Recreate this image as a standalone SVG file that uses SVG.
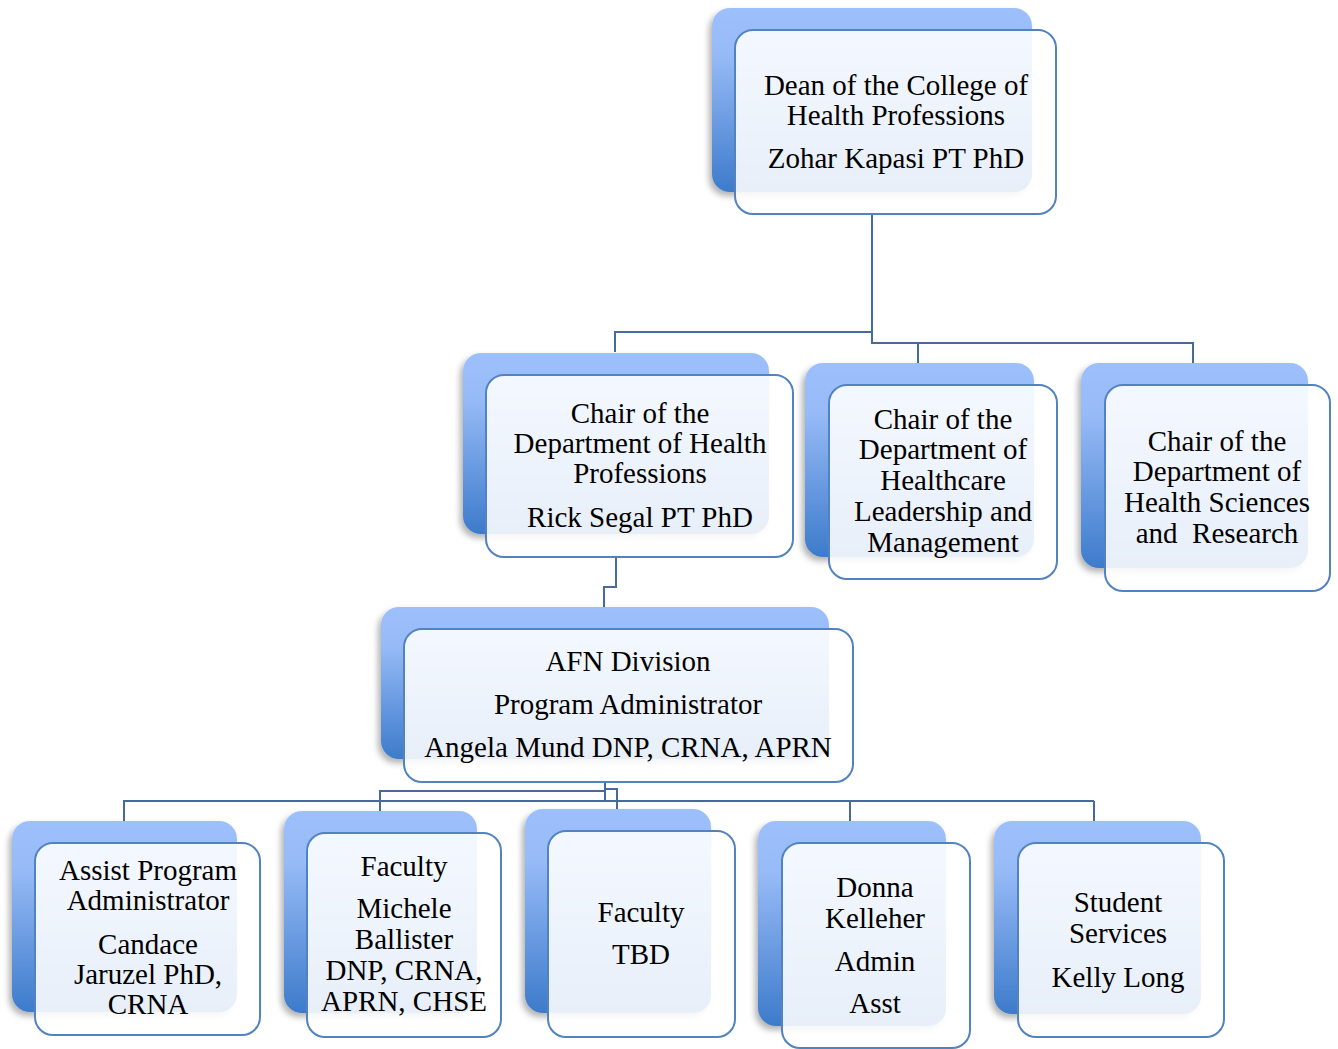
<svg xmlns="http://www.w3.org/2000/svg" width="1338" height="1049" viewBox="0 0 1338 1049">
<defs>
<linearGradient id="bg" x1="0" y1="0" x2="0" y2="1">
<stop offset="0" stop-color="#9dc0fd"/>
<stop offset="0.25" stop-color="#97bbf7"/>
<stop offset="1" stop-color="#3d7bcb"/>
</linearGradient>
<filter id="sh" x="-10%" y="-10%" width="125%" height="125%">
<feDropShadow dx="-3" dy="4" stdDeviation="3" flood-color="#000" flood-opacity="0.3"/>
</filter>
</defs>
<style>
.back{fill:url(#bg);filter:url(#sh);}
.front{fill:#fff;fill-opacity:0.88;stroke:#5283c0;stroke-width:2;}
.conn{fill:none;stroke:#46699f;stroke-width:2;}
text{font-family:"Liberation Serif","DejaVu Serif",serif;font-size:29px;fill:#000;text-anchor:middle;}
</style>
<rect width="1338" height="1049" fill="#fff"/>
<g id="connectors">
<polyline class="conn" points="872,214 872,332 615,332 615,352"/>
<polyline class="conn" points="872,332 872,343 1193,343 1193,363"/>
<line class="conn" x1="918" y1="343" x2="918" y2="363"/>
<polyline class="conn" points="616,557 616,587 604,587 604,607"/>
<polyline class="conn" points="605,782 605,801 124,801 124,821"/>
<line class="conn" x1="605" y1="801" x2="1094" y2="801"/>
<line class="conn" x1="850" y1="801" x2="850" y2="821"/>
<line class="conn" x1="1094" y1="801" x2="1094" y2="821"/>
<polyline class="conn" points="605,791 380,791 380,811"/>
<polyline class="conn" points="605,789 617,789 617,809"/>
</g>
<g id="dean">
<rect class="back" x="712" y="8" width="320" height="184" rx="18"/>
<rect class="front" x="735" y="30" width="321" height="184" rx="18"/>
<text x="896" y="95">Dean of the College of</text>
<text x="896" y="125">Health Professions</text>
<text x="896" y="168">Zohar Kapasi PT PhD</text>
</g>
<g id="chair-hp">
<rect class="back" x="463" y="353" width="306" height="181" rx="18"/>
<rect class="front" x="486" y="375" width="307" height="182" rx="18"/>
<text x="640" y="423">Chair of the</text>
<text x="640" y="453">Department of Health</text>
<text x="640" y="483">Professions</text>
<text x="640" y="527">Rick Segal PT PhD</text>
</g>
<g id="chair-hlm">
<rect class="back" x="805" y="363" width="229" height="194" rx="18"/>
<rect class="front" x="829" y="385" width="228" height="194" rx="18"/>
<text x="943" y="429">Chair of the</text>
<text x="943" y="459">Department of</text>
<text x="943" y="490">Healthcare</text>
<text x="943" y="521">Leadership and</text>
<text x="943" y="552">Management</text>
</g>
<g id="chair-hsr">
<rect class="back" x="1081" y="363" width="227" height="205" rx="18"/>
<rect class="front" x="1105" y="385" width="225" height="206" rx="18"/>
<text x="1217" y="451">Chair of the</text>
<text x="1217" y="481">Department of</text>
<text x="1217" y="512">Health Sciences</text>
<text x="1217" y="543" xml:space="preserve">and  Research</text>
</g>
<g id="afn">
<rect class="back" x="381" y="607" width="448" height="152" rx="18"/>
<rect class="front" x="404" y="629" width="449" height="153" rx="18"/>
<text x="628" y="671">AFN Division</text>
<text x="628" y="714">Program Administrator</text>
<text x="628" y="757">Angela Mund DNP, CRNA, APRN</text>
</g>
<g id="assist">
<rect class="back" x="12" y="821" width="225" height="191" rx="18"/>
<rect class="front" x="35" y="843" width="225" height="192" rx="18"/>
<text x="148" y="880">Assist Program</text>
<text x="148" y="910">Administrator</text>
<text x="148" y="954">Candace</text>
<text x="148" y="984">Jaruzel PhD,</text>
<text x="148" y="1014">CRNA</text>
</g>
<g id="faculty-michele">
<rect class="back" x="284" y="811" width="193" height="202" rx="18"/>
<rect class="front" x="307" y="833" width="194" height="204" rx="18"/>
<text x="404" y="876">Faculty</text>
<text x="404" y="918">Michele</text>
<text x="404" y="949">Ballister</text>
<text x="404" y="980">DNP, CRNA,</text>
<text x="404" y="1011">APRN, CHSE</text>
</g>
<g id="faculty-tbd">
<rect class="back" x="525" y="809" width="186" height="204" rx="18"/>
<rect class="front" x="548" y="831" width="187" height="206" rx="18"/>
<text x="641" y="922">Faculty</text>
<text x="641" y="964">TBD</text>
</g>
<g id="donna">
<rect class="back" x="758" y="821" width="188" height="205" rx="18"/>
<rect class="front" x="782" y="843" width="188" height="205" rx="18"/>
<text x="875" y="897">Donna</text>
<text x="875" y="928">Kelleher</text>
<text x="875" y="971">Admin</text>
<text x="875" y="1013">Asst</text>
</g>
<g id="student">
<rect class="back" x="994" y="821" width="207" height="193" rx="18"/>
<rect class="front" x="1018" y="843" width="206" height="194" rx="18"/>
<text x="1118" y="912">Student</text>
<text x="1118" y="943">Services</text>
<text x="1118" y="987">Kelly Long</text>
</g>
</svg>
